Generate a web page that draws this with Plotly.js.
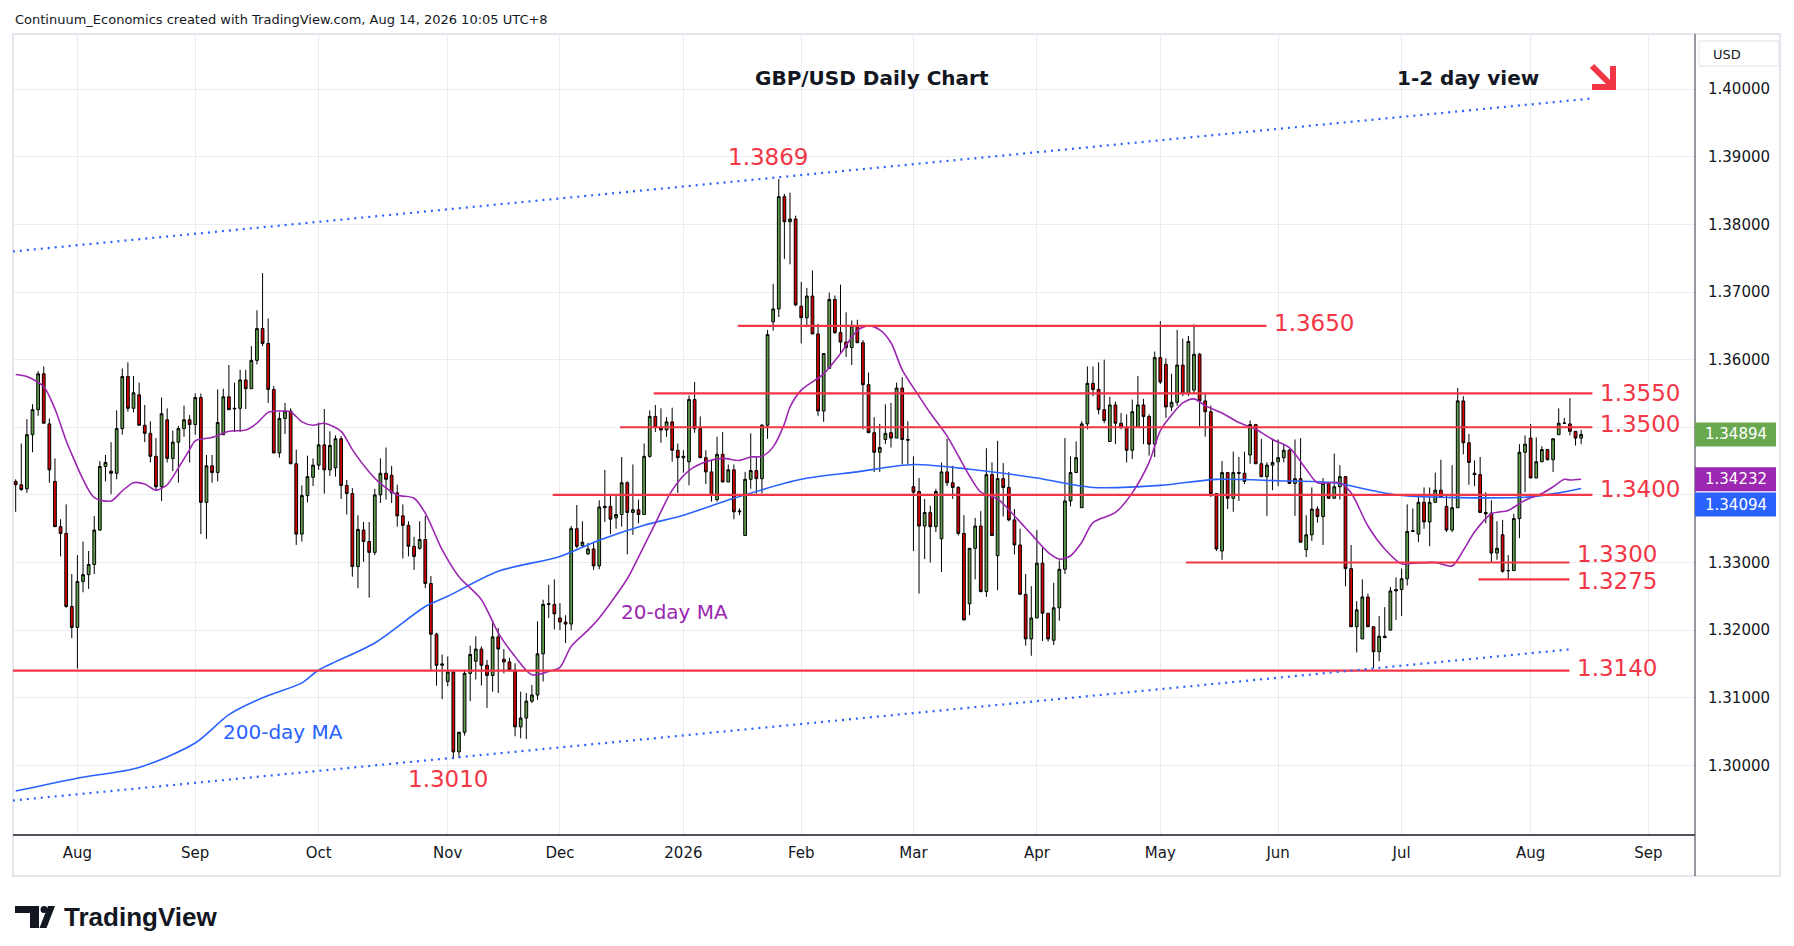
<!DOCTYPE html>
<html><head><meta charset="utf-8">
<script src="https://cdn.plot.ly/plotly-3.0.1.min.js"></script>
<style>html,body{margin:0;padding:0;background:#fff}#chart{width:1794px;height:946px}</style>
</head><body><div id="chart"></div>
<script>
// ---------------- DATA ----------------
const firstDay = '2025-07-17';
const holidays = ['2025-12-25', '2026-01-01'];

const opens = [
1.3420,1.3415,1.3409,1.3489,1.3526,1.3579,1.3505,1.3420,1.3353,1.3343,
1.3235,1.3204,1.3272,1.3282,1.3297,1.3348,1.3442,1.3435,1.3432,1.3498,
1.3575,1.3528,1.3548,1.3503,1.3491,1.3457,1.3412,1.3511,1.3454,1.3478,
1.3498,1.3511,1.3504,1.3544,1.3389,1.3443,1.3433,1.3489,1.3545,1.3527,
1.3528,1.3570,1.3557,1.3599,1.3646,1.3624,1.3556,1.3462,1.3513,1.3524,
1.3446,1.3342,1.3399,1.3426,1.3444,1.3474,1.3437,1.3440,1.3483,1.3414,
1.3402,1.3294,1.3348,1.3331,1.3315,1.3400,1.3432,1.3429,1.3403,1.3369,
1.3355,1.3324,1.3321,1.3334,1.3269,1.3194,1.3148,1.3124,1.3138,1.3020,
1.3049,1.3136,1.3154,1.3172,1.3148,1.3133,1.3190,1.3157,1.3153,1.3141,
1.3057,1.3070,1.3095,1.3104,1.3165,1.3238,1.3238,1.3218,1.3212,1.3209,
1.3350,1.3325,1.3313,1.3320,1.3295,1.3381,1.3383,1.3366,1.3371,1.3418,
1.3374,1.3378,1.3371,1.3457,1.3516,1.3500,1.3496,1.3508,1.3466,1.3455,
1.3449,1.3541,1.3498,1.3455,1.3434,1.3393,1.3460,1.3419,1.3437,1.3375,
1.3340,1.3423,1.3436,1.3424,1.3503,1.3656,1.3675,1.3841,1.3804,1.3808,
1.3679,1.3662,1.3694,1.3638,1.3524,1.3587,1.3689,1.3640,1.3626,1.3618,
1.3650,1.3625,1.3563,1.3492,1.3463,1.3482,1.3492,1.3484,1.3558,1.3482,
1.3412,1.3405,1.3354,1.3374,1.3353,1.3335,1.3434,1.3418,1.3411,1.3343,
1.3239,1.3321,1.3354,1.3257,1.3430,1.3310,1.3424,1.3411,1.3363,1.3326,
1.3253,1.3187,1.3218,1.3299,1.3225,1.3185,1.3233,1.3290,1.3391,1.3433,
1.3381,1.3505,1.3565,1.3556,1.3526,1.3479,1.3533,1.3506,1.3500,1.3466,
1.3500,1.3533,1.3516,1.3475,1.3603,1.3593,1.3530,1.3537,1.3592,1.3550,
1.3555,1.3608,1.3539,1.3523,1.3402,1.3317,1.3433,1.3395,1.3433,1.3432,
1.3459,1.3504,1.3446,1.3427,1.3444,1.3449,1.3455,1.3466,1.3417,1.3424,
1.3319,1.3341,1.3379,1.3368,1.3417,1.3395,1.3412,1.3427,1.3291,1.3205,
1.3187,1.3249,1.3205,1.3168,1.3191,1.3200,1.3258,1.3260,1.3276,1.3346,
1.3342,1.3389,1.3360,1.3389,1.3407,1.3383,1.3348,1.3381,1.3539,1.3477,
1.3432,1.3430,1.3374,1.3373,1.3314,1.3341,1.3288,1.3288,1.3365,1.3463,
1.3484,1.3425,1.3449,1.3467,1.3452,1.3489,1.3506,1.3505,1.3494,1.3484
];
const highs = [
1.3423,1.3476,1.3512,1.3534,1.3583,1.3590,1.3513,1.3454,1.3364,1.3386,
1.3283,1.3311,1.3331,1.3317,1.3369,1.3450,1.3459,1.3478,1.3525,1.3587,
1.3596,1.3576,1.3566,1.3533,1.3509,1.3484,1.3544,1.3528,1.3495,1.3502,
1.3532,1.3518,1.3550,1.3550,1.3459,1.3459,1.3556,1.3557,1.3592,1.3566,
1.3585,1.3585,1.3620,1.3673,1.3728,1.3661,1.3561,1.3522,1.3536,1.3528,
1.3467,1.3414,1.3458,1.3454,1.3507,1.3527,1.3494,1.3488,1.3487,1.3422,
1.3410,1.3370,1.3360,1.3360,1.3409,1.3454,1.3470,1.3443,1.3415,1.3386,
1.3361,1.3338,1.3361,1.3369,1.3280,1.3196,1.3164,1.3161,1.3140,1.3049,
1.3141,1.3177,1.3191,1.3176,1.3156,1.3215,1.3203,1.3172,1.3159,1.3151,
1.3109,1.3107,1.3119,1.3213,1.3245,1.3267,1.3275,1.3240,1.3222,1.3354,
1.3385,1.3361,1.3329,1.3329,1.3392,1.3437,1.3400,1.3401,1.3456,1.3420,
1.3445,1.3393,1.3476,1.3525,1.3533,1.3528,1.3515,1.3529,1.3476,1.3466,
1.3547,1.3567,1.3516,1.3466,1.3451,1.3486,1.3493,1.3445,1.3445,1.3380,
1.3434,1.3491,1.3457,1.3505,1.3644,1.3712,1.3867,1.3845,1.3847,1.3813,
1.3715,1.3706,1.3732,1.3653,1.3609,1.3699,1.3695,1.3711,1.3670,1.3658,
1.3659,1.3629,1.3581,1.3515,1.3505,1.3534,1.3536,1.3566,1.3574,1.3509,
1.3457,1.3425,1.3394,1.3384,1.3409,1.3448,1.3483,1.3443,1.3413,1.3370,
1.3321,1.3366,1.3376,1.3469,1.3448,1.3480,1.3447,1.3434,1.3379,1.3350,
1.3283,1.3265,1.3348,1.3322,1.3225,1.3270,1.3303,1.3484,1.3457,1.3479,
1.3509,1.3590,1.3590,1.3596,1.3600,1.3545,1.3538,1.3521,1.3519,1.3541,
1.3576,1.3542,1.3519,1.3612,1.3657,1.3602,1.3579,1.3644,1.3631,1.3635,
1.3652,1.3610,1.3550,1.3532,1.3402,1.3450,1.3434,1.3464,1.3456,1.3464,
1.3510,1.3505,1.3483,1.3448,1.3483,1.3482,1.3475,1.3468,1.3482,1.3484,
1.3370,1.3411,1.3383,1.3425,1.3418,1.3461,1.3444,1.3428,1.3326,1.3243,
1.3275,1.3254,1.3205,1.3221,1.3234,1.3264,1.3278,1.3291,1.3386,1.3380,
1.3399,1.3411,1.3411,1.3433,1.3452,1.3401,1.3444,1.3558,1.3546,1.3490,
1.3451,1.3456,1.3404,1.3392,1.3361,1.3363,1.3311,1.3372,1.3475,1.3488,
1.3505,1.3485,1.3472,1.3468,1.3483,1.3528,1.3514,1.3543,1.3494,1.3496
];
const lows = [
1.3375,1.3406,1.3403,1.3463,1.3517,1.3506,1.3418,1.3353,1.3309,1.3233,
1.3188,1.3143,1.3256,1.3261,1.3283,1.3347,1.3420,1.3401,1.3423,1.3489,
1.3523,1.3522,1.3503,1.3478,1.3448,1.3406,1.3391,1.3448,1.3435,1.3418,
1.3486,1.3448,1.3489,1.3342,1.3335,1.3418,1.3420,1.3489,1.3526,1.3493,
1.3493,1.3527,1.3557,1.3593,1.3620,1.3536,1.3462,1.3455,1.3490,1.3446,
1.3326,1.3331,1.3389,1.3413,1.3437,1.3402,1.3428,1.3427,1.3394,1.3371,
1.3279,1.3262,1.3301,1.3248,1.3311,1.3388,1.3393,1.3388,1.3353,1.3306,
1.3309,1.3289,1.3319,1.3262,1.3141,1.3118,1.3098,1.3117,1.3009,1.3011,
1.3044,1.3095,1.3127,1.3118,1.3085,1.3109,1.3107,1.3136,1.3139,1.3043,
1.3040,1.3039,1.3092,1.3097,1.3124,1.3218,1.3201,1.3200,1.3181,1.3200,
1.3321,1.3323,1.3311,1.3289,1.3290,1.3360,1.3342,1.3350,1.3353,1.3312,
1.3341,1.3358,1.3371,1.3455,1.3493,1.3477,1.3486,1.3449,1.3403,1.3433,
1.3414,1.3492,1.3455,1.3416,1.3390,1.3390,1.3419,1.3419,1.3364,1.3370,
1.3340,1.3409,1.3402,1.3402,1.3483,1.3643,1.3663,1.3749,1.3741,1.3679,
1.3624,1.3650,1.3638,1.3517,1.3508,1.3587,1.3638,1.3609,1.3604,1.3592,
1.3625,1.3497,1.3492,1.3434,1.3434,1.3475,1.3470,1.3484,1.3445,1.3445,
1.3317,1.3254,1.3305,1.3300,1.3345,1.3286,1.3413,1.3394,1.3340,1.3215,
1.3222,1.3275,1.3256,1.3249,1.3340,1.3259,1.3368,1.3361,1.3312,1.3253,
1.3177,1.3162,1.3218,1.3184,1.3183,1.3178,1.3214,1.3283,1.3383,1.3433,
1.3381,1.3497,1.3546,1.3519,1.3506,1.3479,1.3475,1.3497,1.3448,1.3453,
1.3500,1.3475,1.3458,1.3456,1.3564,1.3514,1.3524,1.3532,1.3546,1.3546,
1.3550,1.3501,1.3486,1.3397,1.3317,1.3304,1.3379,1.3375,1.3391,1.3416,
1.3446,1.3446,1.3426,1.3369,1.3407,1.3413,1.3448,1.3417,1.3369,1.3330,
1.3308,1.3332,1.3359,1.3326,1.3394,1.3395,1.3393,1.3265,1.3205,1.3167,
1.3187,1.3205,1.3144,1.3154,1.3188,1.3200,1.3215,1.3221,1.3266,1.3345,
1.3330,1.3350,1.3324,1.3389,1.3397,1.3345,1.3345,1.3381,1.3460,1.3415,
1.3413,1.3374,1.3358,1.3300,1.3304,1.3285,1.3275,1.3288,1.3336,1.3404,
1.3425,1.3425,1.3449,1.3451,1.3434,1.3489,1.3505,1.3488,1.3473,1.3475
];
const closes = [
1.3415,1.3408,1.3489,1.3526,1.3579,1.3506,1.3437,1.3353,1.3343,1.3235,
1.3204,1.3272,1.3282,1.3297,1.3348,1.3442,1.3448,1.3432,1.3498,1.3575,
1.3528,1.3551,1.3503,1.3491,1.3457,1.3412,1.3520,1.3454,1.3478,1.3498,
1.3511,1.3504,1.3544,1.3389,1.3443,1.3433,1.3507,1.3545,1.3526,1.3528,
1.3570,1.3557,1.3599,1.3646,1.3624,1.3556,1.3462,1.3513,1.3524,1.3446,
1.3342,1.3399,1.3427,1.3444,1.3474,1.3437,1.3473,1.3483,1.3414,1.3402,
1.3294,1.3349,1.3331,1.3315,1.3400,1.3432,1.3423,1.3403,1.3369,1.3355,
1.3324,1.3309,1.3334,1.3269,1.3194,1.3148,1.3150,1.3138,1.3020,1.3049,
1.3136,1.3164,1.3172,1.3148,1.3133,1.3190,1.3172,1.3153,1.3141,1.3057,
1.3070,1.3095,1.3104,1.3165,1.3238,1.3239,1.3224,1.3212,1.3209,1.3350,
1.3324,1.3330,1.3320,1.3295,1.3382,1.3383,1.3364,1.3371,1.3418,1.3374,
1.3378,1.3371,1.3457,1.3516,1.3500,1.3496,1.3508,1.3466,1.3455,1.3457,
1.3541,1.3498,1.3455,1.3434,1.3399,1.3460,1.3419,1.3437,1.3375,1.3376,
1.3423,1.3436,1.3424,1.3503,1.3637,1.3675,1.3841,1.3804,1.3808,1.3681,
1.3662,1.3694,1.3638,1.3524,1.3609,1.3689,1.3640,1.3626,1.3618,1.3650,
1.3625,1.3563,1.3492,1.3463,1.3470,1.3491,1.3484,1.3558,1.3482,1.3481,
1.3404,1.3354,1.3374,1.3353,1.3405,1.3434,1.3418,1.3411,1.3343,1.3215,
1.3321,1.3354,1.3257,1.3430,1.3340,1.3424,1.3411,1.3363,1.3326,1.3253,
1.3187,1.3218,1.3299,1.3225,1.3187,1.3233,1.3290,1.3391,1.3433,1.3455,
1.3505,1.3565,1.3556,1.3526,1.3510,1.3533,1.3506,1.3500,1.3466,1.3523,
1.3533,1.3516,1.3475,1.3603,1.3567,1.3530,1.3537,1.3592,1.3550,1.3627,
1.3608,1.3539,1.3523,1.3402,1.3320,1.3433,1.3395,1.3433,1.3432,1.3420,
1.3504,1.3446,1.3427,1.3444,1.3448,1.3455,1.3466,1.3417,1.3424,1.3330,
1.3341,1.3379,1.3368,1.3417,1.3395,1.3412,1.3427,1.3291,1.3205,1.3230,
1.3249,1.3205,1.3168,1.3191,1.3189,1.3258,1.3260,1.3276,1.3346,1.3347,
1.3389,1.3360,1.3389,1.3407,1.3397,1.3348,1.3381,1.3539,1.3477,1.3448,
1.3430,1.3374,1.3372,1.3314,1.3321,1.3287,1.3288,1.3365,1.3463,1.3475,
1.3425,1.3449,1.3467,1.3452,1.3483,1.3506,1.3506,1.3494,1.3484,1.34894
];

// moving averages (sample points)
const ma20Dates = ['2025-07-17','2025-07-21','2025-07-24','2025-07-28','2025-07-30','2025-07-31','2025-08-04','2025-08-06','2025-08-11','2025-08-13','2025-08-15','2025-08-19','2025-08-21','2025-08-25','2025-08-27','2025-08-29','2025-09-01','2025-09-04','2025-09-09','2025-09-12','2025-09-16','2025-09-18','2025-09-22','2025-09-24','2025-09-26','2025-09-30','2025-10-02','2025-10-07','2025-10-09','2025-10-14','2025-10-16','2025-10-21','2025-10-24','2025-10-28','2025-10-31','2025-11-05','2025-11-11','2025-11-14','2025-11-19','2025-11-24','2025-11-27','2025-12-01','2025-12-03','2025-12-08','2025-12-10','2025-12-17','2025-12-19','2025-12-24','2025-12-30','2026-01-05','2026-01-08','2026-01-13','2026-01-16','2026-01-20','2026-01-22','2026-01-26','2026-01-28','2026-01-29','2026-02-02','2026-02-06','2026-02-11','2026-02-16','2026-02-18','2026-02-20','2026-02-24','2026-02-26','2026-03-03','2026-03-05','2026-03-10','2026-03-16','2026-03-18','2026-03-23','2026-03-26','2026-03-31','2026-04-03','2026-04-07','2026-04-09','2026-04-13','2026-04-15','2026-04-21','2026-04-24','2026-04-29','2026-05-01','2026-05-05','2026-05-07','2026-05-11','2026-05-13','2026-05-18','2026-05-21','2026-05-26','2026-05-29','2026-06-03','2026-06-08','2026-06-10','2026-06-16','2026-06-18','2026-06-23','2026-06-26','2026-07-01','2026-07-03','2026-07-09','2026-07-14','2026-07-16','2026-07-20','2026-07-23','2026-07-28','2026-07-31','2026-08-05','2026-08-07','2026-08-11','2026-08-12','2026-08-14'];
const ma20Values = [1.3578,1.3575,1.3560,1.3527,1.3480,1.3460,1.3423,1.3396,1.3391,1.3406,1.3418,1.3416,1.3407,1.3415,1.3440,1.3467,1.3480,1.3485,1.3494,1.3496,1.3506,1.3522,1.3524,1.3523,1.3508,1.3503,1.3506,1.3494,1.3467,1.3434,1.3417,1.3400,1.3395,1.3373,1.3319,1.3279,1.3245,1.3196,1.3161,1.3134,1.3139,1.3145,1.3176,1.3200,1.3218,1.3276,1.3308,1.3358,1.3407,1.3436,1.3449,1.3454,1.3451,1.3456,1.3457,1.3471,1.3505,1.3530,1.3555,1.3579,1.3609,1.3643,1.3650,1.3644,1.3625,1.3585,1.3546,1.3521,1.3487,1.3428,1.3404,1.3394,1.3369,1.3342,1.3315,1.3305,1.3310,1.3330,1.3359,1.3374,1.3403,1.3448,1.3495,1.3518,1.3536,1.3542,1.3532,1.3521,1.3507,1.3497,1.3482,1.3470,1.3438,1.3418,1.3418,1.3403,1.3354,1.3320,1.3298,1.3299,1.3300,1.3295,1.3318,1.3345,1.3372,1.3377,1.3392,1.3402,1.3412,1.3423,1.3422,1.34232];

const ma200Dates = ['2025-07-17','2025-08-01','2025-08-18','2025-09-01','2025-09-09','2025-09-17','2025-09-26','2025-10-01','2025-10-15','2025-10-28','2025-11-03','2025-11-14','2025-12-01','2025-12-10','2025-12-22','2026-01-02','2026-01-15','2026-02-02','2026-02-16','2026-03-02','2026-03-16','2026-04-01','2026-04-15','2026-05-01','2026-05-15','2026-06-01','2026-06-15','2026-06-24','2026-07-01','2026-07-15','2026-08-03','2026-08-10','2026-08-14'];
const ma200Values = [1.2962,1.2981,1.2997,1.3033,1.3075,1.3100,1.3122,1.3141,1.3181,1.3235,1.3250,1.3287,1.3309,1.3333,1.3355,1.3370,1.3395,1.3423,1.3434,1.3445,1.3438,1.3425,1.3411,1.3414,1.3423,1.3421,1.3418,1.3406,1.3399,1.3396,1.3397,1.3403,1.34094];

// horizontal support / resistance levels
const levelValues = [1.3650, 1.3550, 1.3500, 1.3400, 1.3300, 1.3275, 1.3140];
const levelStarts = ['2026-01-15 17:00','2025-12-23 17:00','2025-12-15 17:00','2025-11-27 17:00','2026-05-07 14:00','2026-07-20 17:00','2025-07-16 12:00'];
const levelEnds   = ['2026-05-27 22:00','2026-08-18 00:00','2026-08-18 00:00','2026-08-18 00:00','2026-08-11 22:00','2026-08-11 22:00','2026-08-11 22:00'];

// rising channel (dotted)
const channelDates = ['2025-07-16 12:00', '2026-08-17 14:00', '2026-08-12 14:00'];
const channelUpper = [1.3760, 1.3986];
const channelLower = [1.2948, 1.3172];

// axis ticks
const monthTicks = ['2025-08-01','2025-09-01','2025-10-01','2025-11-03','2025-12-01','2026-01-02','2026-02-02','2026-03-02','2026-04-01','2026-05-01','2026-06-01','2026-07-01','2026-08-03','2026-09-01'];
const monthLabels = ['Aug','Sep','Oct','Nov','Dec','2026','Feb','Mar','Apr','May','Jun','Jul','Aug','Sep'];
const priceTicks = [1.30,1.31,1.32,1.33,1.34,1.35,1.36,1.37,1.38,1.39,1.40];
const hiddenTicks = [1.34, 1.35];   // covered by the price tags on the axis
const lastClose = 1.34894, lastMa20 = 1.34232, lastMa200 = 1.34094;

// ---------------- BUILD ----------------
function tradingDays(start, n, skip) {
  const out = []; const d = new Date(start + 'T00:00:00Z');
  while (out.length < n) {
    const dow = d.getUTCDay(); const s = d.toISOString().slice(0, 10);
    if (dow !== 0 && dow !== 6 && skip.indexOf(s) < 0) out.push(s);
    d.setUTCDate(d.getUTCDate() + 1);
  }
  return out;
}
const dates = tradingDays(firstDay, closes.length, holidays);

const W = 1794, H = 946, ML = 13, MR = 99, MT = 34, MB = 112;
const PW = W - ML - MR, PH = H - MT - MB;
const px = x => (x - ML) / PW;
const py = y => (H - MB - y) / PH;

const RED = '#f23645', BLUE = '#2962ff', PURPLE = '#9c27b0', TXT = '#131722';
const FONT = 'DejaVu Sans, Verdana, sans-serif';

const traces = [
  { type: 'scatter', mode: 'lines', x: ma200Dates, y: ma200Values, line: { color: BLUE, width: 1.6, shape: 'spline', smoothing: 0.8 }, hoverinfo: 'skip', showlegend: false },
  { type: 'scatter', mode: 'lines', x: ma20Dates, y: ma20Values, line: { color: PURPLE, width: 1.6, shape: 'spline', smoothing: 0.8 }, hoverinfo: 'skip', showlegend: false },
  { type: 'candlestick', x: dates, open: opens, high: highs, low: lows, close: closes,
    increasing: { line: { color: '#000000', width: 1 }, fillcolor: '#5e9e4a' },
    decreasing: { line: { color: '#000000', width: 1 }, fillcolor: '#d30000' },
    whiskerwidth: 0, hoverinfo: 'skip', showlegend: false }
];

const shapes = [];
levelValues.forEach((v, i) => shapes.push({ type: 'line', xref: 'x', yref: 'y', x0: levelStarts[i], x1: levelEnds[i], y0: v, y1: v, line: { color: RED, width: 2.2 } }));
shapes.push({ type: 'line', xref: 'x', yref: 'y', x0: channelDates[0], x1: channelDates[1], y0: channelUpper[0], y1: channelUpper[1], line: { color: BLUE, width: 2.2, dash: '2px,5px' } });
shapes.push({ type: 'line', xref: 'x', yref: 'y', x0: channelDates[0], x1: channelDates[2], y0: channelLower[0], y1: channelLower[1], line: { color: BLUE, width: 2.2, dash: '2px,5px' } });
// frame, axis separator
shapes.push({ type: 'rect', xref: 'paper', yref: 'paper', x0: 0, x1: px(1780), y0: py(876), y1: 1, line: { color: '#e3e6ec', width: 2 }, fillcolor: 'rgba(0,0,0,0)', layer: 'below' });
shapes.push({ type: 'line', xref: 'paper', yref: 'paper', x0: 1, x1: 1, y0: py(876), y1: 1, line: { color: '#50535e', width: 1.2 } });
// USD box
shapes.push({ type: 'rect', xref: 'paper', yref: 'paper', x0: px(1699), x1: px(1779), y0: py(66), y1: py(41), line: { color: '#e0e3eb', width: 1 }, fillcolor: '#ffffff' });
// price tags
const tagDefs = [[lastClose, '#6aa84f', 0], [lastMa20, PURPLE, 0], [lastMa200, BLUE, -16]];
tagDefs.forEach(t => shapes.push({ type: 'rect', xref: 'paper', yref: 'y', ysizemode: 'pixel', yanchor: t[0], x0: 1, x1: px(1776), y0: t[2] - 12, y1: t[2] + 12, line: { width: 0 }, fillcolor: t[1] }));
// red "1-2 day view" arrow (thick stroke + L-shaped head)
shapes.push({ type: 'line', xref: 'paper', yref: 'paper', x0: px(1592), y0: py(66), x1: px(1611), y1: py(85), line: { color: RED, width: 6 } });
shapes.push({ type: 'path', xref: 'paper', yref: 'paper', path: `M${px(1592)},${py(87)} L${px(1613)},${py(87)} L${px(1613)},${py(66)}`, line: { color: RED, width: 6 }, fillcolor: 'rgba(0,0,0,0)' });
// TradingView logo glyph
shapes.push({ type: 'rect', xref: 'paper', yref: 'paper', x0: px(15), x1: px(39), y0: py(913), y1: py(906), fillcolor: TXT, line: { width: 0 } });
shapes.push({ type: 'rect', xref: 'paper', yref: 'paper', x0: px(30), x1: px(39), y0: py(928), y1: py(906), fillcolor: TXT, line: { width: 0 } });
shapes.push({ type: 'circle', xref: 'paper', yref: 'paper', x0: px(40.5), x1: px(47.5), y0: py(913), y1: py(906), fillcolor: TXT, line: { width: 0 } });
shapes.push({ type: 'path', xref: 'paper', yref: 'paper', path: `M${px(48)},${py(906)} L${px(55)},${py(906)} L${px(46.5)},${py(928)} L${px(39.5)},${py(928)} Z`, fillcolor: TXT, line: { width: 0 } });

const ann = [];
const txt = (x, y, text, size, color, opts) => ann.push(Object.assign({ xref: 'paper', yref: 'paper', x: px(x), y: py(y), text, showarrow: false, xanchor: 'center', yanchor: 'middle', font: { family: FONT, size, color } }, opts || {}));
txt(13, 20, 'Continuum_Economics created with TradingView.com, Aug 14, 2026 10:05 UTC+8', 13, TXT, { xanchor: 'left' });
txt(872, 78, '<b>GBP/USD Daily Chart</b>', 20, TXT);
txt(1468, 78, '<b>1-2 day view</b>', 20, TXT);
txt(768, 157, '1.3869', 23, RED);
txt(448, 779, '1.3010', 23, RED);
txt(674, 612, '20-day MA', 20, PURPLE);
txt(283, 732, '200-day MA', 20, BLUE);
txt(1711, 54, 'USD', 13, TXT, { xanchor: 'left' });
txt(62, 917, '<b>TradingView</b>', 26, TXT, { xanchor: 'left', font: { family: 'Liberation Sans, Arial, sans-serif', size: 26, color: TXT } });
// level labels
const labelShift = [3, 0, 3, 6, 9, -2, 3];
levelValues.forEach((v, i) => ann.push({ xref: 'x', yref: 'y', x: levelEnds[i], y: v, text: v.toFixed(4), showarrow: false, xanchor: 'left', yanchor: 'middle', xshift: 6, yshift: labelShift[i], font: { family: FONT, size: 23, color: RED } }));
// tag labels
tagDefs.forEach(t => ann.push({ xref: 'paper', yref: 'y', x: px(1735.5), y: t[0], yshift: t[2], text: t[0].toFixed(5), showarrow: false, xanchor: 'center', yanchor: 'middle', font: { family: FONT, size: 15, color: '#ffffff' } }));

const priceText = priceTicks.map(v => hiddenTicks.some(h => Math.abs(h - v) < 1e-9) ? '' : v.toFixed(5));

const layout = {
  width: W, height: H, margin: { l: ML, r: MR, t: MT, b: MB, pad: 0 },
  paper_bgcolor: '#ffffff', plot_bgcolor: '#ffffff', showlegend: false,
  font: { family: FONT, color: TXT },
  xaxis: {
    type: 'date', range: ['2025-07-16 12:30', '2026-09-11 07:00'],
    rangebreaks: [{ bounds: ['sat', 'mon'] }, { values: holidays }],
    rangeslider: { visible: false },
    tickvals: monthTicks, ticktext: monthLabels,
    showgrid: true, gridcolor: '#e9edf2', gridwidth: 1,
    ticks: 'outside', ticklen: 4, tickcolor: 'rgba(0,0,0,0)',
    tickfont: { family: FONT, size: 15, color: TXT },
    showline: true, linecolor: '#50535e', linewidth: 1.5, zeroline: false, fixedrange: true
  },
  yaxis: {
    side: 'right', range: [1.28985, 1.40816],
    tickvals: priceTicks, ticktext: priceText,
    showgrid: true, gridcolor: '#e9edf2', gridwidth: 1,
    ticks: 'outside', ticklen: 9, tickcolor: 'rgba(0,0,0,0)',
    tickfont: { family: FONT, size: 15, color: TXT },
    showline: false, zeroline: false, fixedrange: true
  },
  shapes, annotations: ann
};

Plotly.newPlot('chart', traces, layout, { displayModeBar: false, staticPlot: true });
</script>
</body></html>
